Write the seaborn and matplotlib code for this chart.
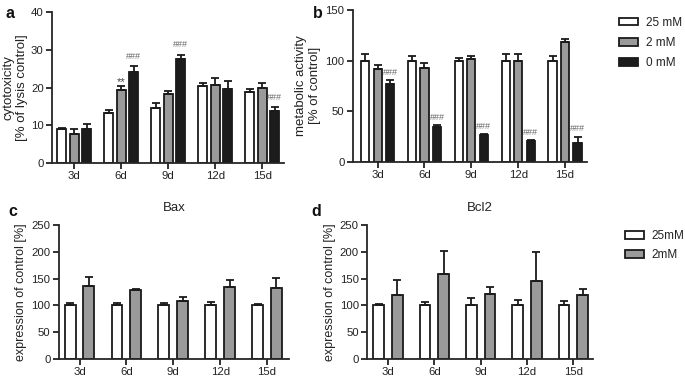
import numpy as np
import pandas as pd
import matplotlib
matplotlib.use("Agg")
import matplotlib.pyplot as plt
import seaborn as sns

days = ["3d", "6d", "9d", "12d", "15d"]

# Panel a: cytotoxicity
cyto_25 = [9.0, 13.2, 14.7, 20.3, 18.9]
cyto_25_err = [0.3, 0.9, 1.1, 0.9, 0.8]
cyto_2 = [7.8, 19.4, 18.3, 20.7, 19.8]
cyto_2_err = [1.2, 0.9, 0.9, 1.7, 1.5]
cyto_0 = [9.0, 24.0, 27.7, 19.6, 13.8]
cyto_0_err = [1.4, 1.6, 1.0, 2.2, 1.0]

# Panel b: metabolic activity
meta_25 = [100, 100, 100, 100, 100]
meta_25_err = [6, 4, 2.5, 6, 4.5]
meta_2 = [92, 92.5, 101.5, 100, 118]
meta_2_err = [4, 5, 2.5, 6, 3.5]
meta_0 = [76.5, 34, 26, 21, 19]
meta_0_err = [4.5, 2.5, 1, 1, 6]

# Panel c: Bax
bax_25 = [100, 100, 100, 100, 100]
bax_25_err = [4, 4, 4, 7, 3]
bax_2 = [137, 128, 108, 135, 133]
bax_2_err = [16, 2.5, 7, 12, 19]

# Panel d: Bcl2
bcl_25 = [100, 100, 100, 100, 100]
bcl_25_err = [3, 6, 13, 10, 8]
bcl_2 = [120, 158, 121, 145, 119.5]
bcl_2_err = [27, 43, 14, 55, 11]

# significance marks: (series, day index, mark)
sig_a = [("2 mM", 1, "**"), ("0 mM", 1, "###"), ("0 mM", 2, "###"), ("0 mM", 4, "###")]
sig_b = [("0 mM", i, "###") for i in range(5)]

sns.set_style("ticks")
plt.rcParams["font.family"] = ["Liberation Sans", "DejaVu Sans"]
plt.rcParams["axes.linewidth"] = 1.3
plt.rcParams["xtick.major.width"] = 1.3
plt.rcParams["ytick.major.width"] = 1.3
plt.rcParams["xtick.major.size"] = 4
plt.rcParams["ytick.major.size"] = 4
plt.rcParams["text.color"] = "#222222"
plt.rcParams["xtick.color"] = "#222222"
plt.rcParams["ytick.color"] = "#222222"
plt.rcParams["axes.labelcolor"] = "#222222"

WHITE, GRAY, BLACK = "#ffffff", "#9a9a9a", "#1c1c1c"
EDGE = "#1a1a1a"

fig = plt.figure(figsize=(6.85, 3.79), dpi=100)


def make_df(series):
    rows = []
    for name, vals, errs in series:
        for d, v, e in zip(days, vals, errs):
            rows.append({"day": d, "group": name, "value": v, "err": e})
    return pd.DataFrame(rows)


def draw(ax, series, palette, ylim, yticks, gap):
    df = make_df(series)
    sns.barplot(data=df, x="day", y="value", hue="group", order=days,
                hue_order=[s[0] for s in series], palette=palette,
                edgecolor=EDGE, linewidth=1.3, errorbar=None,
                width=0.8, gap=gap, ax=ax, legend=True)
    centers = {}
    for cont, (name, vals, errs) in zip(ax.containers, series):
        xs = [p.get_x() + p.get_width() / 2 for p in cont.patches]
        centers[name] = xs
        ax.errorbar(xs, vals, yerr=[np.zeros(len(errs)), errs], fmt="none",
                    ecolor=EDGE, elinewidth=1.3, capsize=2.8, capthick=1.3,
                    zorder=1)
    ax.set_ylim(*ylim)
    ax.set_yticks(yticks)
    ax.set_xlim(-0.47, 4.47)
    ax.set_xlabel("")
    sns.despine(ax=ax)
    ax.tick_params(labelsize=8.2, pad=2)
    return centers


# panel a
ax_a = fig.add_axes([0.076, 0.570, 0.339, 0.398])
ser_a = [("25 mM", cyto_25, cyto_25_err), ("2 mM", cyto_2, cyto_2_err),
         ("0 mM", cyto_0, cyto_0_err)]
cen_a = draw(ax_a, ser_a, [WHITE, GRAY, BLACK], (0, 40), [0, 10, 20, 30, 40], 0.3)
ax_a.set_ylabel("cytotoxicity\n[% of lysis control]", fontsize=9.5, labelpad=2)
ax_a.get_legend().remove()
lookup_a = {n: (v, e) for n, v, e in ser_a}
for name, i, mark in sig_a:
    v, e = lookup_a[name]
    if mark == "**":
        ax_a.text(cen_a[name][i], v[i] + e[i] - 0.2, mark,
                  ha="center", va="bottom", fontsize=8, color="#444444")
    else:
        ax_a.text(cen_a[name][i], v[i] + e[i] + 1.5, mark,
                  ha="center", va="bottom", fontsize=6.5, color="#666666")

# panel b
ax_b = fig.add_axes([0.515, 0.573, 0.342, 0.401])
ser_b = [("25 mM", meta_25, meta_25_err), ("2 mM", meta_2, meta_2_err),
         ("0 mM", meta_0, meta_0_err)]
cen_b = draw(ax_b, ser_b, [WHITE, GRAY, BLACK], (0, 150), [0, 50, 100, 150], 0.35)
ax_b.set_xlim(-0.53, 4.47)
ax_b.set_ylabel("metabolic activity\n[% of control]", fontsize=9.5, labelpad=3)
lookup_b = {n: (v, e) for n, v, e in ser_b}
for name, i, mark in sig_b:
    v, e = lookup_b[name]
    ax_b.text(cen_b[name][i], v[i] + e[i] + 3, mark,
              ha="center", va="bottom", fontsize=6.5, color="#666666")
hb, lb = ax_b.get_legend_handles_labels()
ax_b.get_legend().remove()
fig.legend(hb, lb, loc="upper left", bbox_to_anchor=(0.897, 0.968),
           frameon=False, fontsize=8.5, handlelength=1.6, handleheight=0.6,
           labelspacing=0.7, handletextpad=0.7, borderaxespad=0)

# panel c
ax_c = fig.add_axes([0.086, 0.053, 0.336, 0.353])
ser_c = [("25mM", bax_25, bax_25_err), ("2mM", bax_2, bax_2_err)]
draw(ax_c, ser_c, [WHITE, GRAY], (0, 250), [0, 50, 100, 150, 200, 250], 0.42)
ax_c.set_xlim(-0.44, 4.47)
ax_c.set_ylabel("expression of control [%]", fontsize=9, labelpad=3)
ax_c.set_title("Bax", fontsize=9.5, pad=10)
ax_c.get_legend().remove()

# panel d
ax_d = fig.add_axes([0.536, 0.053, 0.330, 0.353])
ser_d = [("25mM", bcl_25, bcl_25_err), ("2mM", bcl_2, bcl_2_err)]
draw(ax_d, ser_d, [WHITE, GRAY], (0, 250), [0, 50, 100, 150, 200, 250], 0.42)
ax_d.set_xlim(-0.45, 4.43)
ax_d.set_ylabel("expression of control [%]", fontsize=9, labelpad=3)
ax_d.set_title("Bcl2", fontsize=9.5, pad=10)
hd, ld = ax_d.get_legend_handles_labels()
ax_d.get_legend().remove()
fig.legend(hd, ld, loc="upper left", bbox_to_anchor=(0.905, 0.405),
           frameon=False, fontsize=8.5, handlelength=1.6, handleheight=0.6,
           labelspacing=0.6, handletextpad=0.7, borderaxespad=0)

# panel letters
for lbl, x, y in [("a", 0.008, 0.985), ("b", 0.457, 0.985),
                  ("c", 0.012, 0.462), ("d", 0.455, 0.462)]:
    fig.text(x, y, lbl, fontsize=11.5, fontweight="bold", va="top", ha="left",
             color="#111111")

fig.savefig("out.png", dpi=100)
